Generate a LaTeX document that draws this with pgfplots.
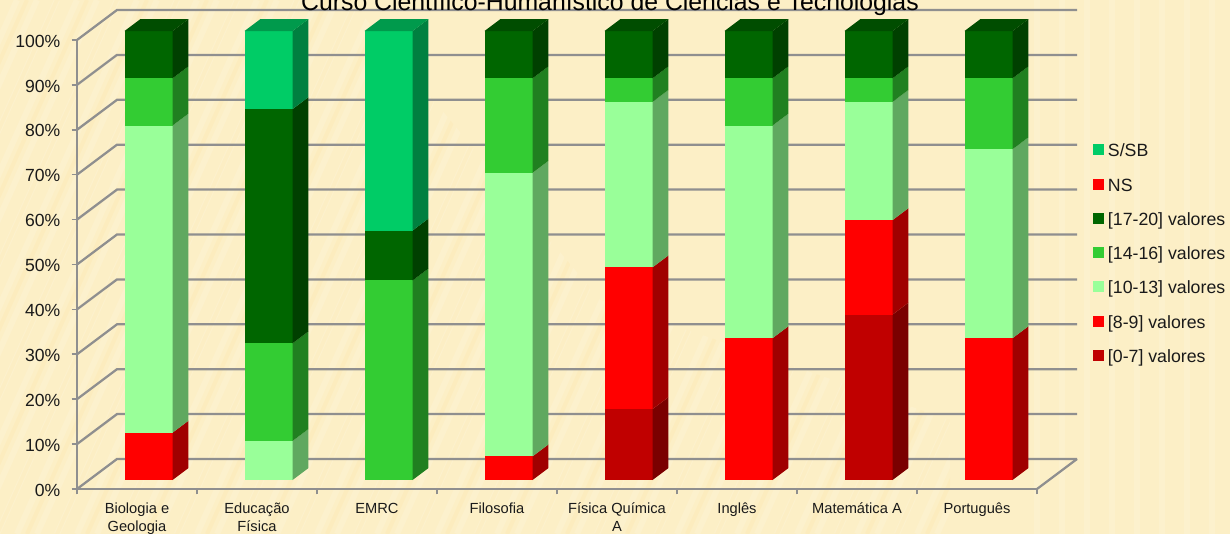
\documentclass[border=0pt]{standalone}
\usepackage{pgfplots}
\pgfplotsset{compat=1.18}
\usepackage{fontspec}
\setmainfont{Liberation Sans}
\definecolor{bgc}{HTML}{FCEFC6}
\definecolor{gridc}{HTML}{8F8F8F}
\definecolor{txt}{HTML}{1A1A1A}
\definecolor{sb}{HTML}{00CC66}\definecolor{sbs}{HTML}{008040}\definecolor{sbt}{HTML}{009A4C}
\definecolor{dg}{HTML}{006600}\definecolor{dgs}{HTML}{004000}\definecolor{dgt}{HTML}{004D00}
\definecolor{mg}{HTML}{33CC33}\definecolor{mgs}{HTML}{208020}
\definecolor{lg}{HTML}{99FF99}\definecolor{lgs}{HTML}{60A860}
\definecolor{rd}{HTML}{FF0000}\definecolor{rds}{HTML}{A00000}
\definecolor{dr}{HTML}{C00000}\definecolor{drs}{HTML}{7A0000}
% one px of the reference = 0.75pt; bar front: cat-0.104 .. cat+0.296, raised 2 (%)
% depth of a bar: 0.133 category, 2.67 %; depth of the box: 0.3333 category, 6.68 %
\newcommand\seg[5]{%
  \addplot[forget plot,fill=#4,draw=none] coordinates {(#1-0.104,#2+2) (#1+0.296,#2+2) (#1+0.296,#3+2) (#1-0.104,#3+2)} --cycle;
  \addplot[forget plot,fill=#5,draw=none] coordinates {(#1+0.296,#2+2) (#1+0.429,#2+4.67) (#1+0.429,#3+4.67) (#1+0.296,#3+2)} --cycle;
}
\newcommand\topface[2]{%
  \addplot[forget plot,fill=#2,draw=none] coordinates {(#1-0.104,102) (#1+0.296,102) (#1+0.429,104.67) (#1+0.029,104.67)} --cycle;
}
\newcommand\wall[1]{%
  \addplot[forget plot,gridc,line width=1.7pt] coordinates {(-0.5,#1) (-0.1667,#1+6.68) (7.8333,#1+6.68)};
}
\newcommand\fl{\rule{0pt}{10pt}}
\pgfplotsset{
  legimg/.style={legend image code/.code={\fill[#1] (0pt,-1.85pt) rectangle (7.5pt,5.65pt);\path (10.5pt,0pt);}},
}
\begin{document}
\begin{tikzpicture}[x=0.75pt,y=0.75pt]
\path[use as bounding box] (-77,-45) rectangle (1153,489);
\clip (-77,-45) rectangle (1153,489);
\fill[bgc] (-77,-45) rectangle (1153,489);
\begin{scope}
\clip (-77,489) -- (273,489) -- (523,189) -- (873,69) -- (873,-45) -- (-77,-45) -- cycle;
\foreach \i in {-360,-340,...,860}
  \draw[white,opacity=.13,line width=4.5pt] (\i,-45) -- (\i+240,489);
\foreach \i in {-360,-330,...,860}
  \draw[orange!60!yellow,opacity=.04,line width=3pt] (\i+10,-45) -- (\i+250,489);
\end{scope}
\foreach \i in {960,985,...,1150}
  \draw[white,opacity=.13,line width=5pt] (\i,-45) -- (\i,489);
\begin{axis}[
  at={(0,0)},anchor=south west,
  scale only axis,width=720pt,height=336.75pt,
  clip=false,
  xmin=-0.5,xmax=7.5,ymin=0,ymax=100,
  axis x line*=bottom,axis y line*=left,
  axis line style={gridc,line width=1.7pt,-},
  xtick={0,...,7},
  xticklabels={\fl Biologia e\\Geologia,\fl Educação\\Física,\fl EMRC,\fl Filosofia,\fl Física Química\\A,\fl Inglês,\fl Matemática A,\fl Português},
  minor xtick={-0.5,0.5,...,7.5},
  major x tick style={draw=none},
  minor x tick style={gridc,line width=1.2pt},
  minor tick length=4pt,
  xticklabel style={font=\fontsize{11pt}{13.5pt}\selectfont,align=center,text=txt,anchor=north,yshift=-1.2pt},
  ytick={0,10,...,100},
  yticklabels={0\%,10\%,20\%,30\%,40\%,50\%,60\%,70\%,80\%,90\%,100\%},
  y tick style={gridc,line width=1.2pt},
  major tick length=4pt,
  tick align=outside,
  yticklabel style={font=\fontsize{13.2pt}{15pt}\selectfont,text=txt,anchor=east,xshift=-5pt,yshift=-0.8pt},
  /pgf/number format/assume math mode=true,
  title={Curso Científico-Humanístico de Ciências e Tecnologias},
  title style={font=\fontsize{18.6pt}{20pt}\selectfont,text=black,at={(axis description cs:0.5552,1)},anchor=base,yshift=16pt,inner sep=0pt},
  legend style={at={(axis cs:7.968,77)},anchor=north west,draw=none,fill=none,font=\fontsize{13.3pt}{15pt}\selectfont,text=txt,row sep=12.7pt,inner sep=0pt,nodes={inner sep=0pt,text height=10pt,text depth=3pt}},
  legend cell align=left,
  legend columns=1,
]
% floor and walls
\addplot[forget plot,gridc,line width=1.7pt] coordinates {(7.5,0) (7.8333,6.68)};
\wall{0}\wall{10}\wall{20}\wall{30}\wall{40}\wall{50}\wall{60}\wall{70}\wall{80}\wall{90}\wall{100}
% Biologia e Geologia
\seg{0}{0}{10.53}{rd}{rds}\seg{0}{10.53}{78.95}{lg}{lgs}\seg{0}{78.95}{89.47}{mg}{mgs}\seg{0}{89.47}{100}{dg}{dgs}\topface{0}{dgt}
% Educação Física
\seg{1}{0}{8.7}{lg}{lgs}\seg{1}{8.7}{30.43}{mg}{mgs}\seg{1}{30.43}{82.61}{dg}{dgs}\seg{1}{82.61}{100}{sb}{sbs}\topface{1}{sbt}
% EMRC
\seg{2}{0}{44.44}{mg}{mgs}\seg{2}{44.44}{55.56}{dg}{dgs}\seg{2}{55.56}{100}{sb}{sbs}\topface{2}{sbt}
% Filosofia
\seg{3}{0}{5.26}{rd}{rds}\seg{3}{5.26}{68.42}{lg}{lgs}\seg{3}{68.42}{89.47}{mg}{mgs}\seg{3}{89.47}{100}{dg}{dgs}\topface{3}{dgt}
% Física Química A
\seg{4}{0}{15.79}{dr}{drs}\seg{4}{15.79}{47.37}{rd}{rds}\seg{4}{47.37}{84.21}{lg}{lgs}\seg{4}{84.21}{89.47}{mg}{mgs}\seg{4}{89.47}{100}{dg}{dgs}\topface{4}{dgt}
% Inglês
\seg{5}{0}{31.58}{rd}{rds}\seg{5}{31.58}{78.95}{lg}{lgs}\seg{5}{78.95}{89.47}{mg}{mgs}\seg{5}{89.47}{100}{dg}{dgs}\topface{5}{dgt}
% Matemática A
\seg{6}{0}{36.84}{dr}{drs}\seg{6}{36.84}{57.89}{rd}{rds}\seg{6}{57.89}{84.21}{lg}{lgs}\seg{6}{84.21}{89.47}{mg}{mgs}\seg{6}{89.47}{100}{dg}{dgs}\topface{6}{dgt}
% Português
\seg{7}{0}{31.58}{rd}{rds}\seg{7}{31.58}{73.68}{lg}{lgs}\seg{7}{73.68}{89.47}{mg}{mgs}\seg{7}{89.47}{100}{dg}{dgs}\topface{7}{dgt}
% legend
\addlegendimage{legimg=sb}\addlegendentry{S/SB}
\addlegendimage{legimg=rd}\addlegendentry{NS}
\addlegendimage{legimg=dg}\addlegendentry{[17-20] valores}
\addlegendimage{legimg=mg}\addlegendentry{[14-16] valores}
\addlegendimage{legimg=lg}\addlegendentry{[10-13] valores}
\addlegendimage{legimg=rd}\addlegendentry{[8-9] valores}
\addlegendimage{legimg=dr}\addlegendentry{[0-7] valores}
\end{axis}
\end{tikzpicture}
\end{document}
